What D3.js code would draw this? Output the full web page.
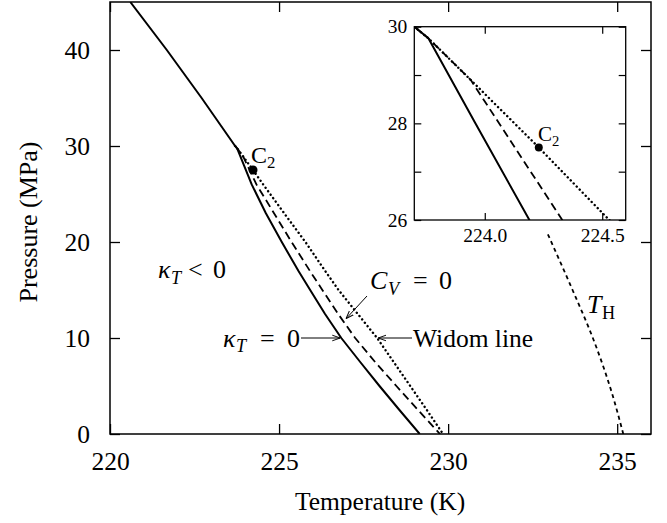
<!DOCTYPE html>
<html>
<head>
<meta charset="utf-8">
<script src="https://cdn.jsdelivr.net/npm/d3@7"></script>
<style>
  body { margin: 0; background: #fff; }
  text { font-family: "Liberation Serif", "Times New Roman", serif; fill: #000; }
</style>
</head>
<body>
<svg id="chart" width="667" height="523"></svg>
<script>
// coexistence line above the kink
const coexT = [220.6, 221.68, 222.71, 223.7];
const coexP = [45, 40, 35, 30];

// kappa_T = 0 line (solid)
const kapT = [223.7, 223.76, 223.96, 224.19, 224.61, 225.08, 225.57, 225.92, 226.36, 226.84, 227.40, 227.97, 228.56, 229.16];
const kapP = [30, 29.76, 28, 26, 23, 20, 17, 15, 12.5, 10, 7.5, 5, 2.5, 0];

// C_V = 0 line (dashed)
const cvT = [223.7, 223.76, 223.94, 224.33, 224.85, 225.37, 225.91, 226.28, 226.75, 227.25, 227.84, 228.47, 229.11, 229.76];
const cvP = [30, 29.76, 28.9, 26, 23, 20, 17, 15, 12.5, 10, 7.5, 5, 2.5, 0];

// Widom line (dotted)
const widT = [223.7, 223.76, 223.94, 224.23, 224.53, 225.15, 225.78, 226.36, 226.76, 227.33, 227.9, 228.39, 228.88, 229.37, 229.85];
const widP = [30, 29.76, 28.9, 27.5, 26, 23, 20, 17, 15, 12.5, 10, 7.5, 5, 2.5, 0];

// T_H line (short dashes)
const thT = [232.95, 233.68, 234.28, 234.78, 235.18];
const thP = [20.8, 15, 10, 5, 0];

// critical point C2
const c2 = [224.23, 27.5];

const xTicks = [220, 225, 230, 235];
const yTicks = [0, 10, 20, 30, 40];
const inXTicks = [224.0, 224.5];
const inYTicks = [26, 27, 28, 29, 30];
const inYLabels = [26, 28, 30];

const serif = '"Liberation Serif", "Times New Roman", serif';
const zip = (a, b) => a.map((v, i) => [v, b[i]]);

const svg = d3.select("#chart");

// main axes
const x = d3.scaleLinear().domain([220, 236]).range([110, 651]);
const y = d3.scaleLinear().domain([0, 45]).range([434, 2]);

const defs = svg.append("defs");
defs.append("marker")
  .attr("id", "arr")
  .attr("viewBox", "0 0 10 10")
  .attr("refX", 10).attr("refY", 5)
  .attr("markerWidth", 8).attr("markerHeight", 8)
  .attr("markerUnits", "userSpaceOnUse")
  .attr("orient", "auto")
  .append("path")
  .attr("d", "M0,1.5 L10,5 L0,8.5")
  .attr("fill", "none").attr("stroke", "#000").attr("stroke-width", 1.2);

defs.append("clipPath").attr("id", "mainclip")
  .append("rect").attr("x", 110).attr("y", 2).attr("width", 541).attr("height", 432);

const line = (sx, sy) => d3.line().x(d => sx(d[0])).y(d => sy(d[1]));

function drawCurves(g, sx, sy, dotR) {
  g.append("path").datum(zip(coexT, coexP)).attr("d", line(sx, sy))
    .attr("fill", "none").attr("stroke", "#000").attr("stroke-width", 2);
  g.append("path").datum(zip(kapT, kapP)).attr("d", line(sx, sy))
    .attr("fill", "none").attr("stroke", "#000").attr("stroke-width", 2)
    .attr("stroke-linejoin", "round");
  g.append("path").datum(zip(widT, widP)).attr("d", line(sx, sy))
    .attr("fill", "none").attr("stroke", "#000").attr("stroke-width", 2.4)
    .attr("stroke-linecap", "round").attr("stroke-dasharray", "0.1 4.2");
  g.append("path").datum(zip(cvT, cvP)).attr("d", line(sx, sy))
    .attr("fill", "none").attr("stroke", "#000").attr("stroke-width", 1.8)
    .attr("stroke-dasharray", "8 4.5");
  g.append("circle").attr("cx", sx(c2[0])).attr("cy", sy(c2[1])).attr("r", dotR).attr("fill", "#000");
}

const plot = svg.append("g").attr("clip-path", "url(#mainclip)");
drawCurves(plot, x, y, 4.5);
plot.append("path").datum(zip(thT, thP)).attr("d", line(x, y).curve(d3.curveMonotoneY))
  .attr("fill", "none").attr("stroke", "#000").attr("stroke-width", 1.8)
  .attr("stroke-dasharray", "4 3.5");

// main frame and inward ticks
svg.append("g").attr("transform", "translate(0,434)")
  .call(d3.axisBottom(x).tickValues(xTicks).tickSize(-10).tickPadding(18).tickFormat(d3.format("d")))
  .call(g => g.select(".domain").remove())
  .call(g => g.selectAll("text").style("font-family", serif).style("font-size", "25.5px"));
svg.append("g").attr("transform", "translate(0,2)")
  .call(d3.axisTop(x).tickValues(xTicks).tickSize(-10).tickFormat(""))
  .call(g => g.select(".domain").remove());
svg.append("g").attr("transform", "translate(110,0)")
  .call(d3.axisLeft(y).tickValues(yTicks).tickSize(-10).tickPadding(20))
  .call(g => g.select(".domain").remove())
  .call(g => g.selectAll("text").style("font-family", serif).style("font-size", "25.5px"));
svg.append("g").attr("transform", "translate(651,0)")
  .call(d3.axisRight(y).tickValues(yTicks).tickSize(-10).tickFormat(""))
  .call(g => g.select(".domain").remove());
svg.selectAll(".tick line").attr("stroke-width", 1.3);
svg.append("rect").attr("x", 110).attr("y", 2).attr("width", 541).attr("height", 432)
  .attr("fill", "none").attr("stroke", "#000").attr("stroke-width", 1.5);

// axis titles
svg.append("text").attr("x", 380).attr("y", 510).attr("text-anchor", "middle")
  .style("font-size", "25.5px").text("Temperature (K)");
svg.append("text").attr("transform", "translate(37,222) rotate(-90)").attr("text-anchor", "middle")
  .style("font-size", "26px").text("Pressure (MPa)");

// math-style labels: each piece placed at its own x
function mathLabel(g, base, size, parts) {
  const t = g.append("text").style("font-size", size + "px");
  parts.forEach(p => {
    t.append("tspan")
      .attr("x", p.x)
      .attr("y", base + (p.sub ? size * 0.22 : 0))
      .style("font-size", (p.sub ? size * 0.7 : size) + "px")
      .style("font-style", p.it ? "italic" : "normal")
      .text(p.t);
  });
  return t;
}

mathLabel(svg, 278, 26, [
  { x: 158, t: "\u03ba", it: true }, { x: 171, t: "T", it: true, sub: true },
  { x: 188, t: "<" }, { x: 213, t: "0" }]);
mathLabel(svg, 346.5, 26, [
  { x: 223, t: "\u03ba", it: true }, { x: 236, t: "T", it: true, sub: true },
  { x: 260, t: "=" }, { x: 287, t: "0" }]);
mathLabel(svg, 289, 26, [
  { x: 370, t: "C", it: true }, { x: 388, t: "V", it: true, sub: true },
  { x: 413, t: "=" }, { x: 439, t: "0" }]);
mathLabel(svg, 313, 26, [
  { x: 587, t: "T", it: true }, { x: 602, t: "H", sub: true }]);
mathLabel(svg, 163, 24, [
  { x: 251, t: "C" }, { x: 267, t: "2", sub: true }]);
svg.append("text").attr("x", 413).attr("y", 347).style("font-size", "25.5px").text("Widom line");

// arrows
const arrow = (x1, y1, x2, y2) => svg.append("line")
  .attr("x1", x1).attr("y1", y1).attr("x2", x2).attr("y2", y2)
  .attr("stroke", "#000").attr("stroke-width", 1).attr("marker-end", "url(#arr)");
arrow(301, y(10), x(226.84) - 1, y(10));
arrow(412, y(10), x(227.9) + 1, y(10));
arrow(367, 296, x(226.95) + 1, y(11.9) - 1);

// inset
const ix = d3.scaleLinear().domain([223.7, 224.6]).range([414.3, 625.7]);
const iy = d3.scaleLinear().domain([26, 30]).range([220, 26.7]);
const inset = svg.append("g");
inset.append("rect").attr("x", 414.3).attr("y", 26.7).attr("width", 211.4).attr("height", 193.3).attr("fill", "#fff");
defs.append("clipPath").attr("id", "inclip")
  .append("rect").attr("x", 414.3).attr("y", 26.7).attr("width", 211.4).attr("height", 193.3);
const iplot = inset.append("g").attr("clip-path", "url(#inclip)");
drawCurves(iplot, ix, iy, 4);

inset.append("g").attr("transform", "translate(0,220)")
  .call(d3.axisBottom(ix).tickValues(inXTicks).tickSize(-7).tickPadding(8).tickFormat(d3.format(".1f")))
  .call(g => g.select(".domain").remove())
  .call(g => g.selectAll("text").style("font-family", serif).style("font-size", "19.5px"));
inset.append("g").attr("transform", "translate(0,26.7)")
  .call(d3.axisTop(ix).tickValues(inXTicks).tickSize(-7).tickFormat(""))
  .call(g => g.select(".domain").remove());
inset.append("g").attr("transform", "translate(414.3,0)")
  .call(d3.axisLeft(iy).tickValues(inYTicks).tickSize(-7).tickPadding(7)
    .tickFormat(d => inYLabels.includes(d) ? d : ""))
  .call(g => g.select(".domain").remove())
  .call(g => g.selectAll("text").style("font-family", serif).style("font-size", "19.5px"));
inset.append("g").attr("transform", "translate(625.7,0)")
  .call(d3.axisRight(iy).tickValues(inYTicks).tickSize(-7).tickFormat(""))
  .call(g => g.select(".domain").remove());
inset.selectAll(".tick line").attr("stroke-width", 1.2);
inset.append("rect").attr("x", 414.3).attr("y", 26.7).attr("width", 211.4).attr("height", 193.3)
  .attr("fill", "none").attr("stroke", "#000").attr("stroke-width", 1.3);
mathLabel(inset, 141, 21, [
  { x: 538, t: "C" }, { x: 552, t: "2", sub: true }]);
</script>
</body>
</html>
